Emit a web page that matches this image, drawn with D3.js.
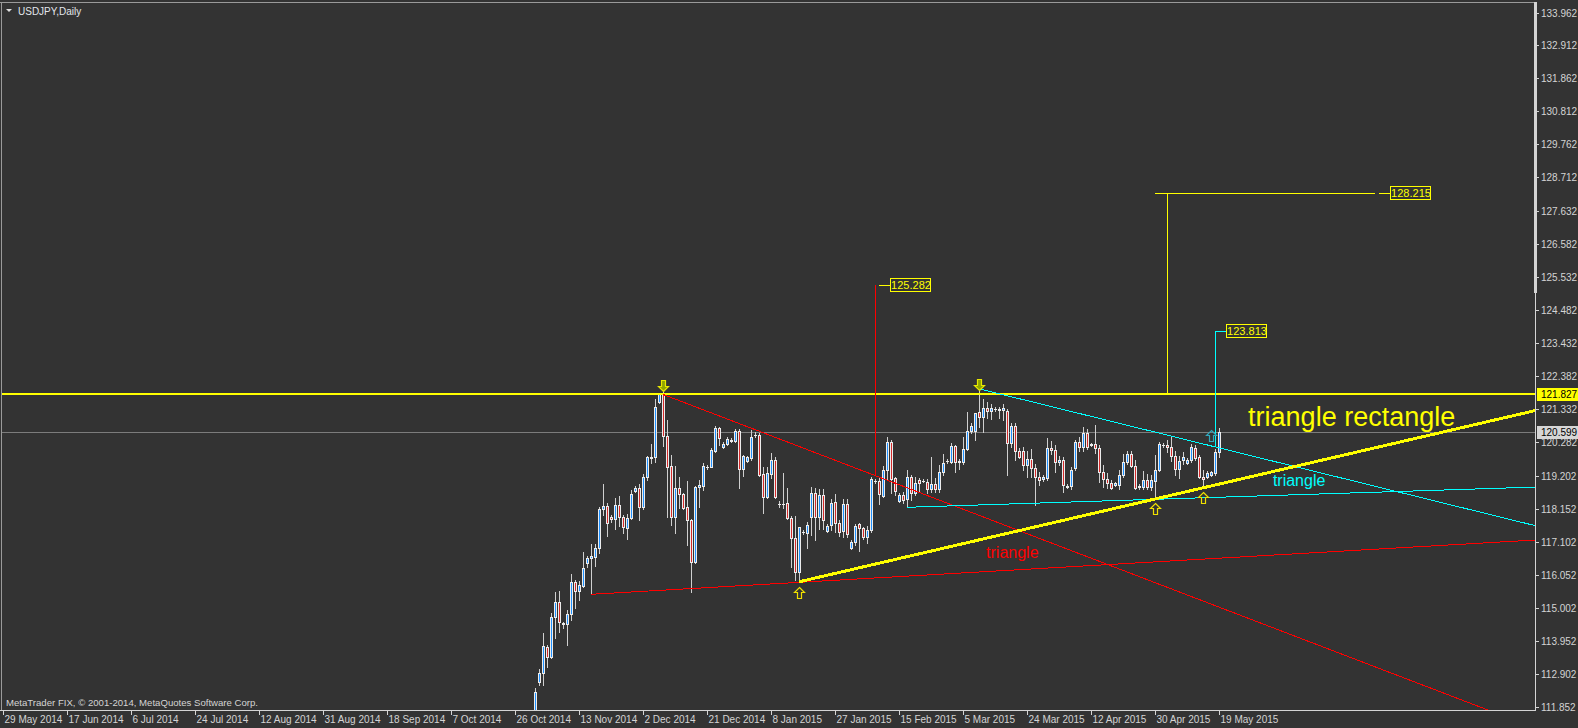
<!DOCTYPE html>
<html lang="en">
<head>
<meta charset="utf-8">
<title>USDJPY,Daily</title>
<script src="https://cdn.jsdelivr.net/npm/d3@7"></script>
<style>
  body{margin:0;background:#333333;overflow:hidden;}
  svg{display:block;}
  text{font-family:"Liberation Sans",Arial,sans-serif;}
</style>
</head>
<body>
<script>

// daily bars (broker feed has Sunday bars too)
var dates = ["2014.10.31","2014.11.02","2014.11.03","2014.11.04","2014.11.05","2014.11.06","2014.11.07","2014.11.09","2014.11.10","2014.11.11",
  "2014.11.12","2014.11.13","2014.11.14","2014.11.16","2014.11.17","2014.11.18","2014.11.19","2014.11.20","2014.11.21","2014.11.23",
  "2014.11.24","2014.11.25","2014.11.26","2014.11.27","2014.11.28","2014.11.30","2014.12.01","2014.12.02","2014.12.03","2014.12.04",
  "2014.12.05","2014.12.07","2014.12.08","2014.12.09","2014.12.10","2014.12.11","2014.12.12","2014.12.14","2014.12.15","2014.12.16",
  "2014.12.17","2014.12.18","2014.12.19","2014.12.21","2014.12.22","2014.12.23","2014.12.24","2014.12.25","2014.12.26","2014.12.28",
  "2014.12.29","2014.12.30","2014.12.31","2015.01.01","2015.01.02","2015.01.04","2015.01.05","2015.01.06","2015.01.07","2015.01.08",
  "2015.01.09","2015.01.11","2015.01.12","2015.01.13","2015.01.14","2015.01.15","2015.01.16","2015.01.18","2015.01.19","2015.01.20",
  "2015.01.21","2015.01.22","2015.01.23","2015.01.25","2015.01.26","2015.01.27","2015.01.28","2015.01.29","2015.01.30","2015.02.01",
  "2015.02.02","2015.02.03","2015.02.04","2015.02.05","2015.02.06","2015.02.08","2015.02.09","2015.02.10","2015.02.11","2015.02.12",
  "2015.02.13","2015.02.15","2015.02.16","2015.02.17","2015.02.18","2015.02.19","2015.02.20","2015.02.22","2015.02.23","2015.02.24",
  "2015.02.25","2015.02.26","2015.02.27","2015.03.01","2015.03.02","2015.03.03","2015.03.04","2015.03.05","2015.03.06","2015.03.08",
  "2015.03.09","2015.03.10","2015.03.11","2015.03.12","2015.03.13","2015.03.15","2015.03.16","2015.03.17","2015.03.18","2015.03.19",
  "2015.03.20","2015.03.22","2015.03.23","2015.03.24","2015.03.25","2015.03.26","2015.03.27","2015.03.29","2015.03.30","2015.03.31",
  "2015.04.01","2015.04.02","2015.04.03","2015.04.05","2015.04.06","2015.04.07","2015.04.08","2015.04.09","2015.04.10","2015.04.12",
  "2015.04.13","2015.04.14","2015.04.15","2015.04.16","2015.04.17","2015.04.19","2015.04.20","2015.04.21","2015.04.22","2015.04.23",
  "2015.04.24","2015.04.26","2015.04.27","2015.04.28","2015.04.29","2015.04.30","2015.05.01","2015.05.03","2015.05.04","2015.05.05",
  "2015.05.06","2015.05.07","2015.05.08","2015.05.10","2015.05.11","2015.05.12","2015.05.13","2015.05.14","2015.05.15","2015.05.17",
  "2015.05.18","2015.05.19"];

var open = [109.25,112.66,112.93,113.76,113.45,114.71,115.19,114.52,114.49,114.80,
  115.82,115.55,115.71,116.45,116.59,116.64,116.91,118.15,118.25,117.89,
  117.83,118.28,117.89,117.56,117.86,118.74,118.82,118.23,119.18,119.78,
  119.80,121.55,121.82,120.49,119.52,117.89,118.81,118.62,118.21,117.81,
  116.48,118.85,118.89,119.50,119.50,120.01,120.72,120.12,120.22,120.33,
  120.33,120.64,119.42,119.69,119.77,120.51,120.51,119.27,118.55,119.27,
  119.72,118.31,118.31,118.34,117.86,117.22,116.16,117.43,117.40,117.91,
  118.65,117.89,118.60,117.46,117.65,118.39,117.72,117.45,118.31,116.90,
  117.10,117.67,117.54,117.27,117.49,119.05,119.05,118.58,119.40,120.30,
  119.13,118.42,118.60,118.46,119.16,118.67,119.08,119.06,119.02,118.78,
  118.94,118.80,119.32,119.68,119.64,120.16,119.64,119.66,120.06,120.65,
  120.65,121.23,121.08,121.38,121.28,121.33,121.33,121.30,121.29,120.25,
  120.80,120.01,119.99,119.55,119.74,119.45,119.18,119.10,119.13,120.11,
  120.03,119.64,119.72,118.87,118.88,119.45,120.30,120.14,120.57,120.20,
  120.22,120.11,119.34,119.11,118.97,118.92,118.92,119.24,119.66,119.90,
  119.54,118.86,118.86,119.08,118.85,119.06,119.40,120.18,120.20,120.12,
  119.84,119.42,119.71,119.62,119.72,120.11,119.82,119.18,119.17,119.24,
  119.31,119.96];

var high = [112.45,113.05,114.20,113.83,114.84,115.50,115.55,114.57,114.94,116.09,
  115.90,115.87,116.80,116.67,117.04,117.04,118.23,118.95,118.34,117.97,
  118.50,118.57,117.97,117.99,118.76,118.90,118.95,119.26,119.84,120.22,
  121.66,121.86,121.88,120.99,119.87,119.52,119.17,118.67,119.05,117.84,
  118.89,119.08,119.63,119.56,120.09,120.80,120.78,120.29,120.46,120.41,
  120.69,120.69,119.87,119.84,120.67,120.62,120.57,119.48,119.48,119.95,
  119.82,118.42,119.31,118.81,117.93,117.93,117.59,117.49,117.75,118.87,
  118.81,118.78,118.78,117.68,118.47,118.63,117.81,118.46,118.46,117.17,
  117.68,117.70,117.59,117.61,119.18,119.10,119.18,119.52,120.44,120.35,
  119.18,118.67,118.70,119.40,119.24,119.18,119.13,119.10,119.10,119.80,
  119.13,119.56,119.91,119.75,120.25,120.19,119.74,120.44,121.25,120.89,
  121.22,121.98,121.65,121.57,121.50,121.39,121.41,121.50,121.33,120.89,
  120.89,120.10,120.13,120.00,120.05,119.60,119.34,119.25,120.41,120.33,
  120.18,119.84,119.80,118.95,119.50,120.35,120.45,120.78,120.70,120.27,
  120.83,120.20,119.55,119.30,119.08,119.00,119.40,119.92,120.00,120.00,
  119.72,118.95,119.38,119.27,119.24,119.87,120.28,120.25,120.34,120.45,
  120.00,119.84,119.96,119.78,120.22,120.20,119.88,119.40,119.35,119.38,
  120.08,120.72];

var low = [109.10,112.55,112.55,113.14,113.40,114.04,114.23,114.36,113.83,114.62,
  114.99,115.26,115.68,116.32,115.44,116.34,116.77,117.97,117.31,117.73,
  117.52,117.62,117.40,117.20,117.83,118.71,117.81,118.15,119.08,119.61,
  119.66,121.54,120.17,117.91,117.65,117.40,118.18,118.17,117.01,115.52,
  116.45,118.23,118.76,119.42,119.48,119.98,120.19,120.09,120.19,120.29,
  120.30,118.83,119.21,119.66,119.72,120.46,119.22,118.02,118.50,119.13,
  118.50,118.23,118.18,117.83,116.30,115.90,115.84,117.36,116.91,117.33,
  117.17,117.51,117.51,117.43,117.49,117.43,117.30,117.27,117.25,116.87,
  117.01,116.83,117.19,117.06,117.42,118.97,118.31,118.55,119.08,118.66,
  118.60,118.39,118.36,118.21,118.44,118.60,118.70,119.01,118.66,118.70,
  118.70,118.70,119.24,119.62,119.61,119.34,119.42,119.59,120.03,120.56,
  120.35,120.78,120.62,121.04,121.01,121.27,121.04,120.99,119.24,120.14,
  119.72,119.78,119.40,119.18,119.18,118.28,118.92,119.05,119.08,119.90,
  119.34,119.56,118.69,118.82,118.80,119.40,120.00,120.00,120.08,120.16,
  119.95,119.00,118.87,118.82,118.79,118.88,118.78,119.17,119.58,119.48,
  118.80,118.80,118.78,118.78,118.76,118.50,119.38,120.14,119.97,119.68,
  119.25,119.14,119.58,119.58,119.66,119.70,119.14,118.87,119.14,119.20,
  119.25,119.82];

var close = [112.34,112.93,113.78,113.45,114.71,115.19,114.57,114.49,114.80,115.82,
  115.55,115.74,116.27,116.59,116.66,116.91,118.15,118.25,117.70,117.83,
  118.28,117.89,117.57,117.88,118.62,118.83,118.23,119.18,119.80,119.82,
  121.39,121.82,120.49,119.50,117.91,118.81,118.62,118.20,117.81,116.48,
  118.85,118.92,119.52,119.48,120.03,120.74,120.41,120.22,120.38,120.34,
  120.64,119.42,119.84,119.80,120.44,120.50,119.24,118.55,119.29,119.72,
  118.53,118.30,118.30,117.86,117.22,116.16,117.59,117.43,117.65,118.65,
  117.89,118.60,117.81,117.61,118.36,117.72,117.43,118.31,117.36,117.10,
  117.62,117.54,117.27,117.49,119.11,119.05,118.62,119.40,120.28,119.11,
  118.73,118.60,118.44,119.16,118.65,118.99,118.99,119.05,118.78,118.94,
  118.78,119.32,119.61,119.68,120.16,119.64,119.68,120.06,120.65,120.80,
  121.20,121.08,121.38,121.28,121.36,121.33,121.32,121.36,120.25,120.80,
  120.01,119.82,119.55,119.74,119.45,119.18,119.08,119.16,120.11,120.03,
  119.64,119.72,118.92,118.88,119.40,120.30,120.14,120.57,120.14,120.22,
  120.09,119.34,119.11,118.97,118.81,118.97,119.24,119.66,119.90,119.54,
  118.83,118.88,119.08,118.85,119.08,119.40,120.21,120.19,120.12,119.84,
  119.42,119.69,119.80,119.73,120.12,119.77,119.19,119.12,119.31,119.34,
  119.98,120.599];

var priceTicks = [133.962,132.912,131.862,130.812,129.762,128.712,127.632,126.582,125.532,124.482,
  123.432,122.382,121.332,120.282,119.202,118.152,117.102,116.052,115.002,113.952,112.902,111.852];

var dateTicks = ["29 May 2014","17 Jun 2014","6 Jul 2014","24 Jul 2014","12 Aug 2014","31 Aug 2014",
  "18 Sep 2014","7 Oct 2014","26 Oct 2014","13 Nov 2014","2 Dec 2014","21 Dec 2014","8 Jan 2015",
  "27 Jan 2015","15 Feb 2015","5 Mar 2015","24 Mar 2015","12 Apr 2015","30 Apr 2015","19 May 2015"];

// drawn objects: [bar, price] anchors
var resistance = 121.827;
var bid = 120.599;
var redUpper = [[32, 121.80], [110, 118.00]];
var redLower = [[14, 115.44], [171, 116.59]];
var yellowRise = [[66, 115.84], [171, 118.95]];
var cyanUpper = [[111, 121.98], [171, 120.10]];
var cyanLower = [[93, 118.21], [171, 118.53]];

var targetBar = [85, 158, 170];
var targetFrom = [119.25, 121.827, 120.13];
var targetPrice = [125.282, 128.215, 123.813];
var targetColor = ["#ff0000", "#ffff00", "#00ffff"];
var labelBar = [86, 211, 170];
var labelLink = ["#ffff00", "#ffff00", "#00ffff"];

var arrowBar = [32, 111, 66, 155, 167, 169];
var arrowPrice = [121.91, 121.94, 115.66, 118.35, 118.71, 120.66];
var arrowDir = ["down", "down", "up", "up", "up", "up"];
var arrowColor = ["#e8e800", "#e8e800", "#f0e000", "#f0e000", "#f0e000", "#2fa8bd"];

var noteText = ["triangle rectangle", "triangle", "triangle"];
var noteBar = [178.2, 184.4, 112.7];
var notePrice = [120.80, 118.89, 116.60];
var noteColor = ["#ffff00", "#00ffff", "#ff0000"];
var noteSize = [27, 16, 16];

var W = 1578, H = 728;
var plotL = 1, plotR = 1535, plotT = 2, plotB = 710;
var fg = "#d4d4d4";

var x = d3.scaleLinear().domain([0, dates.length - 1]).range([535.3, 1219.3]);
var y = d3.scaleLinear().domain([111.852, 133.962]).range([707, 12.5]);

var svg = d3.select("body").append("svg").attr("width", W).attr("height", H);
svg.append("rect").attr("width", W).attr("height", H).attr("fill", "#333333");

svg.append("defs").append("clipPath").attr("id", "plot")
  .append("rect").attr("x", plotL).attr("y", plotT)
  .attr("width", plotR - plotL).attr("height", plotB - plotT);

var g = svg.append("g").attr("clip-path", "url(#plot)");

// bid line
g.append("line").attr("x1", plotL).attr("x2", plotR)
  .attr("y1", Math.round(y(bid)) + 0.5).attr("y2", Math.round(y(bid)) + 0.5)
  .attr("stroke", "#7c7c7c").attr("shape-rendering", "crispEdges");

// candles
var idx = d3.range(dates.length);
function bodyTop(i) { return Math.round(y(Math.max(open[i], close[i]))); }
function bodyH(i) { return Math.max(1, Math.round(y(Math.min(open[i], close[i]))) - bodyTop(i) + 1); }

var cg = g.append("g").attr("shape-rendering", "crispEdges");
cg.selectAll(".wick").data(idx).join("line").attr("class", "wick")
  .attr("x1", function(i) { return Math.round(x(i)) + 0.5; })
  .attr("x2", function(i) { return Math.round(x(i)) + 0.5; })
  .attr("y1", function(i) { return Math.round(y(high[i])); })
  .attr("y2", function(i) { return Math.round(y(low[i])) + 1; })
  .attr("stroke", "#cfcfcf");
cg.selectAll(".body").data(idx).join("rect").attr("class", "body")
  .attr("x", function(i) { return Math.round(x(i)) - 1; })
  .attr("y", bodyTop)
  .attr("width", 3)
  .attr("height", bodyH)
  .attr("fill", "#ececec");
cg.selectAll(".core").data(idx.filter(function(i) { return bodyH(i) > 2; })).join("rect").attr("class", "core")
  .attr("x", function(i) { return Math.round(x(i)); })
  .attr("y", function(i) { return bodyTop(i) + 1; })
  .attr("width", 1)
  .attr("height", function(i) { return bodyH(i) - 2; })
  .attr("fill", function(i) { return close[i] >= open[i] ? "#1e90ff" : "#d42a2a"; });

// horizontal resistance
g.append("line").attr("x1", plotL).attr("x2", plotR)
  .attr("y1", y(resistance)).attr("y2", y(resistance))
  .attr("stroke", "#ffff00").attr("stroke-width", 2).attr("shape-rendering", "crispEdges");

// trend rays
function ray(pts, color, w) {
  var x1 = x(pts[0][0]), y1 = y(pts[0][1]);
  var s = (y(pts[1][1]) - y1) / (x(pts[1][0]) - x1);
  g.append("line").attr("x1", x1).attr("y1", y1)
    .attr("x2", plotR).attr("y2", y1 + s * (plotR - x1))
    .attr("stroke", color).attr("stroke-width", w).attr("shape-rendering", "crispEdges");
}
ray(redUpper, "#ff0000", 1);
ray(redLower, "#ff0000", 1);
ray(cyanUpper, "#00ffff", 1);
ray(cyanLower, "#00ffff", 1);
ray(yellowRise, "#ffff00", 3);

// target projections
targetBar.forEach(function(b, j) {
  var xv = Math.round(x(b)) + 0.5;
  g.append("line").attr("x1", xv).attr("x2", xv)
    .attr("y1", y(targetFrom[j])).attr("y2", y(targetPrice[j]))
    .attr("stroke", targetColor[j]).attr("shape-rendering", "crispEdges");
});
// long level line of the rectangle target
g.append("line").attr("x1", x(155)).attr("x2", x(210))
  .attr("y1", Math.round(y(targetPrice[1])) + 0.5).attr("y2", Math.round(y(targetPrice[1])) + 0.5)
  .attr("stroke", "#ffff00").attr("shape-rendering", "crispEdges");

labelBar.forEach(function(b, j) {
  var lx = Math.round(x(b)), ly = Math.round(y(targetPrice[j]));
  g.append("line").attr("x1", lx).attr("x2", lx + 11)
    .attr("y1", ly + 0.5).attr("y2", ly + 0.5)
    .attr("stroke", labelLink[j]).attr("shape-rendering", "crispEdges");
  g.append("rect").attr("x", lx + 11.5).attr("y", ly - 6.5)
    .attr("width", 40).attr("height", 13)
    .attr("fill", "#333333").attr("stroke", "#ffff00").attr("shape-rendering", "crispEdges");
  g.append("text").attr("x", lx + 32).attr("y", ly + 4)
    .attr("text-anchor", "middle").attr("font-size", 11).attr("fill", "#ffff00")
    .text(targetPrice[j].toFixed(3));
});

// arrows
function arrowPath(dir) {
  var s = dir === "up" ? 1 : -1;
  return "M0," + 0 + "L5," + (5 * s) + "L2," + (5 * s) + "L2," + (11 * s) +
    "L-2," + (11 * s) + "L-2," + (5 * s) + "L-5," + (5 * s) + "Z";
}
arrowBar.forEach(function(b, j) {
  g.append("path")
    .attr("transform", "translate(" + (Math.round(x(b)) + 0.5) + "," + (Math.round(y(arrowPrice[j])) + 0.5) + ")")
    .attr("d", arrowPath(arrowDir[j]))
    .attr("fill", arrowDir[j] === "down" ? "#8fa400" : "none")
    .attr("stroke", arrowColor[j]).attr("stroke-width", 1.2);
});

// notes
noteText.forEach(function(t, j) {
  g.append("text").attr("x", x(noteBar[j])).attr("y", y(notePrice[j]))
    .attr("font-size", noteSize[j]).attr("fill", noteColor[j]).text(t);
});

// frame and axes
svg.append("line").attr("x1", 0).attr("x2", plotR).attr("y1", plotT + 0.5).attr("y2", plotT + 0.5)
  .attr("stroke", "#9a9a9a").attr("shape-rendering", "crispEdges");
svg.append("line").attr("x1", plotL + 0.5).attr("x2", plotL + 0.5).attr("y1", plotT).attr("y2", plotB)
  .attr("stroke", "#9a9a9a").attr("shape-rendering", "crispEdges");
svg.append("line").attr("x1", plotR + 0.5).attr("x2", plotR + 0.5).attr("y1", plotT).attr("y2", plotB + 1)
  .attr("stroke", fg).attr("shape-rendering", "crispEdges");
svg.append("rect").attr("x", plotR - 1).attr("y", plotT).attr("width", 3).attr("height", 291)
  .attr("fill", fg);
svg.append("line").attr("x1", 0).attr("x2", plotR + 1).attr("y1", plotB + 0.5).attr("y2", plotB + 0.5)
  .attr("stroke", fg).attr("shape-rendering", "crispEdges");

// price scale
var pa = svg.append("g");
pa.selectAll("line").data(priceTicks).join("line")
  .attr("x1", plotR + 1).attr("x2", plotR + 4)
  .attr("y1", function(d) { return Math.round(y(d)) + 0.5; })
  .attr("y2", function(d) { return Math.round(y(d)) + 0.5; })
  .attr("stroke", fg).attr("shape-rendering", "crispEdges");
pa.selectAll("text").data(priceTicks).join("text")
  .attr("x", plotR + 6).attr("y", function(d) { return y(d) + 4; })
  .attr("font-size", 10).attr("fill", fg)
  .text(function(d) { return d.toFixed(3); });

// current price tags
[[resistance, "#ffff00"], [bid, "#d6d6d6"]].forEach(function(p) {
  var ly = Math.round(y(p[0]));
  svg.append("rect").attr("x", plotR + 2).attr("y", ly - 6).attr("width", W - plotR - 2).attr("height", 13)
    .attr("fill", p[1]);
  svg.append("text").attr("x", plotR + 6).attr("y", ly + 4)
    .attr("font-size", 10).attr("fill", "#000").text(p[0].toFixed(3));
});

// time scale, one label every 16 bars
var ta = svg.append("g");
dateTicks.forEach(function(t, j) {
  var tx = Math.round(x(11 + 16 * (j - 9))) + 0.5;
  ta.append("line").attr("x1", tx).attr("x2", tx).attr("y1", plotB).attr("y2", plotB + 5)
    .attr("stroke", fg).attr("shape-rendering", "crispEdges");
  ta.append("text").attr("x", tx + 1).attr("y", 723).attr("font-size", 10).attr("fill", fg).text(t);
});

// title and copyright
svg.append("path").attr("d", "M6,9L12,9L9,12Z").attr("fill", "#e0e0e0");
svg.append("text").attr("x", 18).attr("y", 14.5).attr("font-size", 10).attr("fill", "#e2e6ea").text("USDJPY,Daily");
svg.append("text").attr("x", 6).attr("y", 706).attr("font-size", 9.6).attr("fill", fg)
  .text("MetaTrader FIX, \u00a9 2001-2014, MetaQuotes Software Corp.");

</script>
</body>
</html>
